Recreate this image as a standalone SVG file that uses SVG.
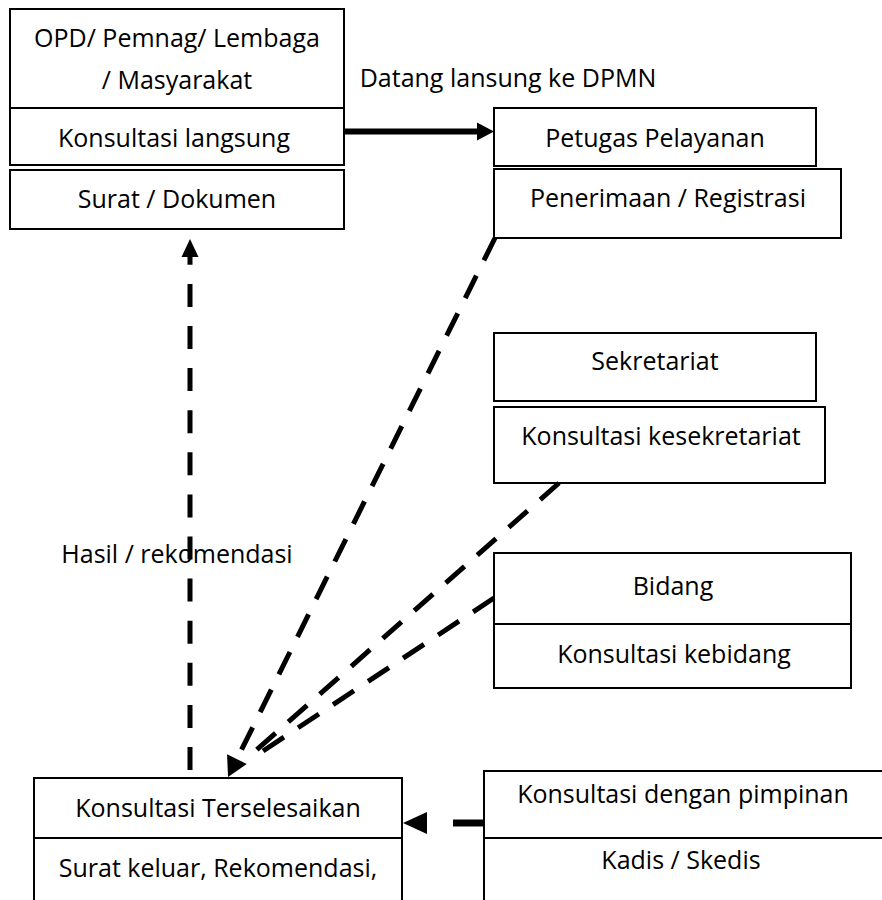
<svg xmlns="http://www.w3.org/2000/svg" width="882" height="900" viewBox="0 0 882 900">
<style>
.box{fill:#fff;stroke:#000;stroke-width:2}
.div{stroke:#000;stroke-width:2}
text{font-family:"Open Sans","Noto Sans",sans-serif;font-size:25px;fill:#000;text-anchor:middle}
.dash{fill:none;stroke:#000;stroke-width:5;stroke-dasharray:25 17}
</style>
<defs>
<marker id="hSolid" markerUnits="userSpaceOnUse" markerWidth="18" markerHeight="18" refX="0" refY="9" orient="auto" overflow="visible"><path d="M0,0 L17,9 L0,18 z" fill="#000"/></marker>
<marker id="hUp" markerUnits="userSpaceOnUse" markerWidth="18" markerHeight="17" refX="0" refY="8.5" orient="auto" overflow="visible"><path d="M0,0 L18,8.5 L0,17 z" fill="#000"/></marker>
<marker id="hDiag" markerUnits="userSpaceOnUse" markerWidth="20" markerHeight="22" refX="0" refY="11" orient="auto" overflow="visible"><path d="M0,0 L20,11 L0,22 z" fill="#000"/></marker>
<marker id="hLeft" markerUnits="userSpaceOnUse" markerWidth="24" markerHeight="22" refX="0" refY="11" orient="auto" overflow="visible"><path d="M0,0 L24,11 L0,22 z" fill="#000"/></marker>
</defs>
<rect width="882" height="900" fill="#fff"/>

<g id="opd">
<rect class="box" x="10" y="9" width="334" height="156"/>
<line class="div" x1="10" y1="108" x2="344" y2="108"/>
<text x="177" y="47">OPD/ Pemnag/ Lembaga</text>
<text x="177" y="89">/ Masyarakat</text>
<text x="174" y="147">Konsultasi langsung</text>
</g>

<g id="surat">
<rect class="box" x="10" y="170" width="334" height="59"/>
<text x="177" y="208">Surat / Dokumen</text>
</g>

<g id="petugas">
<rect class="box" x="494" y="108" width="322" height="58"/>
<text x="655" y="147">Petugas Pelayanan</text>
</g>

<g id="penerimaan">
<rect class="box" x="494" y="169" width="347" height="69"/>
<text x="668" y="207">Penerimaan / Registrasi</text>
</g>

<g id="sekretariat">
<rect class="box" x="494" y="333" width="322" height="68"/>
<text x="655" y="370">Sekretariat</text>
</g>

<g id="kesekretariat">
<rect class="box" x="494" y="407" width="331" height="76"/>
<text x="661" y="445">Konsultasi kesekretariat</text>
</g>

<g id="bidang">
<rect class="box" x="494" y="553" width="357" height="135"/>
<line class="div" x1="494" y1="624" x2="851" y2="624"/>
<text x="673" y="595">Bidang</text>
<text x="674" y="663">Konsultasi kebidang</text>
</g>

<g id="terselesaikan">
<rect class="box" x="34" y="778" width="368" height="140"/>
<line class="div" x1="34" y1="838" x2="402" y2="838"/>
<text x="218" y="817">Konsultasi Terselesaikan</text>
<text x="218" y="877">Surat keluar, Rekomendasi,</text>
</g>

<g id="pimpinan">
<rect class="box" x="484" y="771" width="410" height="140"/>
<line class="div" x1="484" y1="838" x2="894" y2="838"/>
<text x="683" y="803">Konsultasi dengan pimpinan</text>
<text x="681" y="869">Kadis / Skedis</text>
</g>

<g id="labels">
<text x="508" y="87">Datang lansung ke DPMN</text>
<text x="177" y="563">Hasil / rekomendasi</text>
</g>

<g id="connectors">
<line x1="344" y1="131.5" x2="477" y2="131.5" stroke="#000" stroke-width="6" marker-end="url(#hSolid)"/>
<path d="M190,770 L190,257" fill="none" stroke="#000" stroke-width="5" stroke-dasharray="23 19.1" marker-end="url(#hUp)"/>
<path class="dash" d="M495,238 L236.9,759.1" marker-end="url(#hDiag)"/>
<path class="dash" d="M559,483 L253,753"/>
<path class="dash" d="M494,598 L254,757"/>
<path d="M484,823 L427,823" fill="none" stroke="#000" stroke-width="7" stroke-dasharray="31 40" marker-end="url(#hLeft)"/>
</g>
</svg>
